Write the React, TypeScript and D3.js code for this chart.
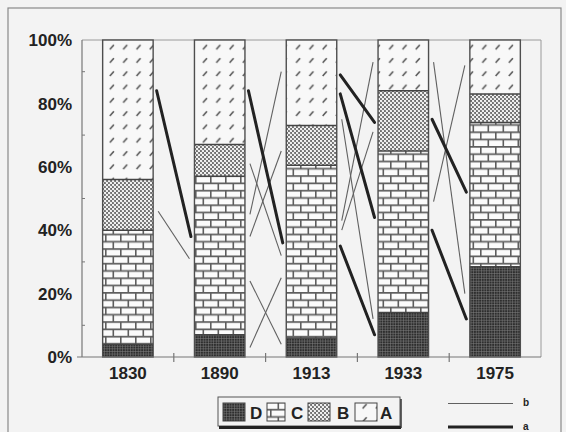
import * as d3 from 'd3'

// stacked shares per year (bottom to top: D, C, B, A)
const years = ['1830', '1890', '1913', '1933', '1975']
const shareD = [4, 7, 6, 14, 28.5]
const shareC = [36, 50, 54.5, 51, 45.5]
const shareB = [16, 10, 12.5, 19, 9]
const shareA = [44, 33, 27, 16, 17]
const yTicks = [0, 20, 40, 60, 80, 100]
const minorTicks = [10, 30, 50, 70, 90]

// connecting segments between neighbouring years: [gap index, from %, to %]
const linesA: [number, number, number][] = [
  [0, 84, 38],
  [1, 84, 36],
  [2, 89, 74],
  [2, 83, 44],
  [2, 35, 7],
  [3, 75, 52],
  [3, 40, 12],
]
const linesB: [number, number, number][] = [
  [0, 46, 31],
  [1, 61, 32],
  [1, 45, 90],
  [1, 38, 65],
  [1, 3, 25],
  [1, 24, 4],
  [2, 75, 12],
  [2, 43, 93],
  [2, 40, 71],
  [3, 93, 20],
  [3, 49, 92],
]

const layers = [
  { key: 'D', values: shareD, fill: 'url(#pD)' },
  { key: 'C', values: shareC, fill: 'url(#pC)' },
  { key: 'B', values: shareB, fill: 'url(#pB)' },
  { key: 'A', values: shareA, fill: 'url(#pA)' },
]

const W = 566
const H = 432
const font = '"Liberation Sans", Arial, sans-serif'

export default function App() {
  const x = d3
    .scaleBand()
    .domain(years)
    .range([82, 541])
    .paddingInner(0.45)
    .paddingOuter(0.225)
  const y = d3.scaleLinear().domain([0, 100]).range([357, 40])
  const bw = x.bandwidth()
  const step = x.step()

  const stacked = years.map((yr, i) => {
    let acc = 0
    return layers.map(l => {
      const y0 = acc
      acc += l.values[i]
      return { key: l.key, fill: l.fill, y0, y1: acc }
    })
  })

  const seg = (s: [number, number, number], inset: number) => {
    const [g, v0, v1] = s
    const x0 = (x(years[g]) as number) + bw + inset
    const x1 = (x(years[g + 1]) as number) - inset
    return { x0, x1, y0: y(v0), y1: y(v1) }
  }

  const legendItems = [
    { key: 'D', fill: 'url(#pD)', sx: 223, sw: 22, tx: 250 },
    { key: 'C', fill: 'url(#pC)', sx: 267, sw: 18, tx: 291 },
    { key: 'B', fill: 'url(#pB)', sx: 308, sw: 22, tx: 337 },
    { key: 'A', fill: 'url(#pA)', sx: 355, sw: 22, tx: 380 },
  ]

  return (
    <>
      <style>{`body{margin:0}`}</style>
      <svg width={W} height={H} style={{ display: 'block' }}>
        <defs>
          <pattern id="pA" patternUnits="userSpaceOnUse" width={13.3} height={13.3}>
            <rect width={13.3} height={13.3} fill="#f8f8f8" />
            <path d="M3.5,9.5 L7.5,5" stroke="#555" strokeWidth={1.6} />
          </pattern>
          <pattern id="pB" patternUnits="userSpaceOnUse" width={4} height={4}>
            <rect width={4} height={4} fill="#6e6e6e" />
            <circle cx={1} cy={1} r={1.25} fill="#f2f2f2" />
            <circle cx={3} cy={3} r={1.25} fill="#f2f2f2" />
          </pattern>
          <pattern id="pC" patternUnits="userSpaceOnUse" width={15} height={14.6}>
            <rect width={15} height={14.6} fill="#fbfbfb" />
            <path
              d="M0,0.8 H15 M0,8.1 H15 M0.8,0 V7.3 M8.3,7.3 V14.6"
              stroke="#5e5e5e"
              strokeWidth={1.6}
            />
          </pattern>
          <pattern id="pD" patternUnits="userSpaceOnUse" width={2.6} height={2.6}>
            <rect width={2.6} height={2.6} fill="#2e2e2e" />
            <path d="M0.3,0 V2.6 M0,0.3 H2.6" stroke="#7e7e7e" strokeWidth={0.6} />
          </pattern>
        </defs>

        {/* background and frame */}
        <rect width={W} height={H} fill="#f3f3f3" />
        <rect x={8} y={8} width={553} height={440} fill="none" stroke="#8a8a8a" strokeWidth={1.2} />

        {/* plot box (top and right) */}
        <path d="M82,40 H541 V357" fill="none" stroke="#9a9a9a" strokeWidth={1} />

        {/* bars */}
        {years.map((yr, i) => (
          <g key={yr}>
            {stacked[i].map(s => (
              <rect
                key={s.key}
                x={x(yr)}
                y={y(s.y1)}
                width={bw}
                height={y(s.y0) - y(s.y1)}
                fill={s.fill}
              />
            ))}
            {stacked[i].slice(0, 3).map(s => (
              <line
                key={'t' + s.key}
                x1={x(yr)}
                x2={(x(yr) as number) + bw}
                y1={y(s.y1)}
                y2={y(s.y1)}
                stroke="#444"
                strokeWidth={1.5}
              />
            ))}
            <rect
              x={x(yr)}
              y={y(100)}
              width={bw}
              height={y(0) - y(100)}
              fill="none"
              stroke="#4e4e4e"
              strokeWidth={1.4}
            />
          </g>
        ))}

        {/* connecting lines */}
        {linesB.map((s, i) => {
          const p = seg(s, 5)
          return (
            <line key={'b' + i} x1={p.x0} y1={p.y0} x2={p.x1} y2={p.y1} stroke="#606060" strokeWidth={1.1} />
          )
        })}
        {linesA.map((s, i) => {
          const p = seg(s, 3.5)
          return (
            <line
              key={'a' + i}
              x1={p.x0}
              y1={p.y0}
              x2={p.x1}
              y2={p.y1}
              stroke="#222"
              strokeWidth={3}
              strokeLinecap="round"
            />
          )
        })}

        {/* y axis */}
        <line x1={82} x2={82} y1={40} y2={357} stroke="#777" strokeWidth={1.2} />
        {minorTicks.map(t => (
          <line key={t} x1={82} x2={85} y1={y(t)} y2={y(t)} stroke="#777" strokeWidth={1} />
        ))}
        {yTicks.map(t => (
          <text
            key={t}
            x={72}
            y={y(t)}
            dy="0.36em"
            textAnchor="end"
            fontFamily={font}
            fontWeight="bold"
            fontSize={17}
            fill="#222"
          >
            {t}%
          </text>
        ))}

        {/* x axis */}
        <line x1={77} x2={541} y1={357} y2={357} stroke="#777" strokeWidth={1.2} />
        {years.slice(1).map(yr => {
          const tx = (x(yr) as number) - (step - bw) / 2
          return <line key={yr} x1={tx} x2={tx} y1={353} y2={362} stroke="#777" strokeWidth={1.2} />
        })}
        {years.map(yr => (
          <text
            key={yr}
            x={(x(yr) as number) + bw / 2}
            y={379}
            textAnchor="middle"
            fontFamily={font}
            fontWeight="bold"
            fontSize={17}
            fill="#222"
          >
            {yr}
          </text>
        ))}

        {/* pattern legend */}
        <rect x={218} y={397} width={182} height={29} fill="#f3f3f3" stroke="#555" strokeWidth={1} />
        <line x1={219} x2={401} y1={427.5} y2={427.5} stroke="#222" strokeWidth={3} />
        <line x1={401} x2={401} y1={399} y2={428} stroke="#333" strokeWidth={1.5} />
        {legendItems.map(l => (
          <g key={l.key}>
            <rect x={l.sx} y={403} width={l.sw} height={18} fill={l.fill} stroke="#444" strokeWidth={1} />
            <text x={l.tx} y={418.5} fontFamily={font} fontWeight="bold" fontSize={17} fill="#222">
              {l.key}
            </text>
          </g>
        ))}

        {/* line legend */}
        <line x1={448} x2={513} y1={403.5} y2={403.5} stroke="#606060" strokeWidth={1.1} />
        <text x={523} y={406} fontFamily={font} fontWeight="bold" fontSize={10} fill="#222">
          b
        </text>
        <line x1={448} x2={513} y1={427} y2={427} stroke="#222" strokeWidth={3} />
        <text x={523} y={430} fontFamily={font} fontWeight="bold" fontSize={10} fill="#222">
          a
        </text>
      </svg>
    </>
  )
}
